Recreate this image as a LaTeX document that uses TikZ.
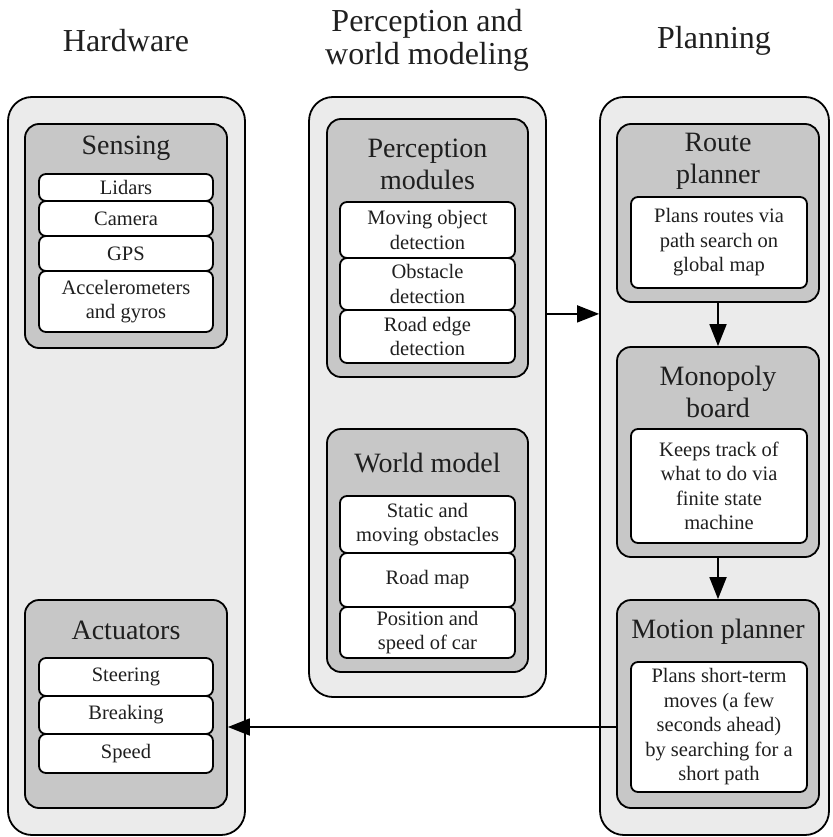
\documentclass[tikz,border=0pt]{standalone}
\usepackage{fontspec}
\setmainfont{Liberation Serif}
\usetikzlibrary{arrows.meta}
\newcommand{\headfont}{\fontsize{32}{33}\selectfont}
\newcommand{\titlefont}{\fontsize{28}{32}\selectfont}
\newcommand{\itemfont}{\fontsize{20.5}{24.5}\selectfont}
\begin{document}
\begin{tikzpicture}[x=1pt,y=-1pt,
  every node/.style={text=black!88},
  sized/.style 2 args={minimum width=#1pt, minimum height=#2pt},
  outerbox/.style={draw=black, line width=1.8pt, fill=black!8, rounded corners=24pt, inner sep=0pt},
  groupbox/.style={draw=black, line width=1.8pt, fill=black!22, rounded corners=14pt, inner sep=0pt},
  itembox/.style={draw=black, line width=1.8pt, fill=white, rounded corners=7pt, inner sep=0pt, align=center, font=\itemfont},
  header/.style={align=center, font=\headfont, inner sep=0pt},
  grouptitle/.style={align=center, font=\titlefont, inner sep=0pt},
  flow/.style={draw=black, line width=1.8pt, -{Triangle[length=22pt,width=17pt]}}
]
\useasboundingbox (0,0) rectangle (832,837);

% column headers
\node[header] (hHW) at (126,41) {Hardware};
\node[header] (hPW) at (427,40) {Perception and\\world modeling};
\node[header] (hPL) at (714,41) {Planning};

% outer columns
\node[outerbox, sized={237}{738}] (hw) at (126.5,466) {};
\node[outerbox, sized={237}{600}] (perc) at (427.5,397) {};
\node[outerbox, sized={229}{738}] (plan) at (714.5,466) {};

% Hardware: sensing
\node[groupbox, sized={202}{224}] (sens) at (126,236) {};
\node[grouptitle] (sensT) at (126,148) {Sensing};
\node[itembox, sized={174}{27}] (lidar) at (126,187.5) {Lidars};
\node[itembox, sized={174}{35}] (cam) at (126,218.5) {Camera};
\node[itembox, sized={174}{35}] (gps) at (126,253.5) {GPS};
\node[itembox, sized={174}{61}] (acc) at (126,301.5) {Accelerometers\\and gyros};

% Hardware: actuators
\node[groupbox, sized={202}{208}] (act) at (126,704) {};
\node[grouptitle] (actT) at (126,630) {Actuators};
\node[itembox, sized={174}{38}] (steer) at (126,677) {Steering};
\node[itembox, sized={174}{38}] (brake) at (126,715) {Breaking};
\node[itembox, sized={174}{39}] (speed) at (126,753.5) {Speed};

% Perception modules
\node[groupbox, sized={201}{258}] (pmod) at (427.5,248) {};
\node[grouptitle] (pmodT) at (427.5,164) {Perception\\modules};
\node[itembox, sized={175}{56}] (mov) at (427.5,230) {Moving object\\detection};
\node[itembox, sized={175}{52}] (obst) at (427.5,284) {Obstacle\\detection};
\node[itembox, sized={175}{53}] (redge) at (427.5,336.5) {Road edge\\detection};

% World model
\node[groupbox, sized={201}{243}] (wm) at (427.5,550.5) {};
\node[grouptitle] (wmT) at (427.5,463) {World model};
\node[itembox, sized={175}{57}] (stat) at (427.5,524.5) {Static and\\moving obstacles};
\node[itembox, sized={175}{54}] (rmap) at (427.5,580) {Road map};
\node[itembox, sized={175}{51}] (pos) at (427.5,632.5) {Position and\\speed of car};

% Planning: route planner
\node[groupbox, sized={202}{178}] (route) at (718,213) {};
\node[grouptitle] (routeT) at (718,161) {Route\\planner};
\node[itembox, sized={176}{91}] (routeW) at (719,242.5) {Plans routes via\\path search on\\global map};

% Planning: monopoly board
\node[groupbox, sized={202}{210}] (mono) at (718,452) {};
\node[grouptitle] (monoT) at (718,392) {Monopoly\\board};
\node[itembox, sized={176}{114}] (monoW) at (719,486) {Keeps track of\\what to do via\\finite state\\machine};

% Planning: motion planner
\node[groupbox, sized={202}{208}] (motion) at (718,704) {};
\node[grouptitle] (motionT) at (718,632) {Motion planner};
\node[itembox, sized={176}{130}] (motionW) at (719,727) {Plans short-term\\moves (a few\\seconds ahead)\\by searching for a\\short path};

% connectors
\draw[flow] ([yshift=-3pt]perc.east |- obst.south) -- ([yshift=-3pt]plan.west |- obst.south);
\draw[flow] (route.south) -- (mono.north);
\draw[flow] (mono.south) -- (motion.north);
\draw[flow] (motion.west |- motionW.center) -- (act.east |- motionW.center);
\end{tikzpicture}
\end{document}
